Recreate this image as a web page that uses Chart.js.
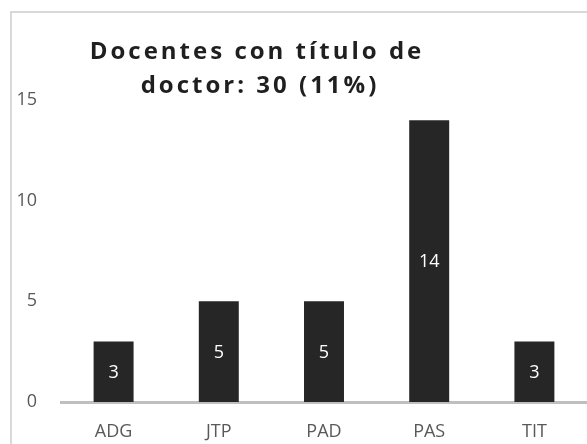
<!DOCTYPE html>
<html>
<head>
<meta charset="utf-8">
<script src="https://cdn.jsdelivr.net/npm/chart.js@4/dist/chart.umd.min.js"></script>
<style>
  html, body { margin: 0; padding: 0; background: #fff; overflow: hidden; }
  #frame { position: absolute; left: 10px; top: 11px; width: 700px; height: 600px;
           border-left: 2px solid #d9d9d9; border-top: 2px solid #d9d9d9; }
  #chart-doctores { position: absolute; left: 0; top: 0; }
</style>
</head>
<body>
<div id="frame"></div>
<canvas id="chart-doctores" width="587" height="444"></canvas>
<script>
// Datos del gráfico
const categorias = ['ADG', 'JTP', 'PAD', 'PAS', 'TIT'];
const docentes = [3, 5, 5, 14, 3];
const tituloLineas = ['Docentes con título de', 'doctor: 30 (11%)'];
const ticksY = [0, 5, 10, 15];

// Título con espaciado entre letras y etiquetas blancas dentro de las barras
const extras = {
  id: 'extras',
  afterDatasetsDraw(chart) {
    const ctx = chart.ctx;
    const meta = chart.getDatasetMeta(0);
    ctx.save();
    ctx.fillStyle = '#ffffff';
    ctx.font = '18px "Open Sans"';
    ctx.textAlign = 'center';
    ctx.textBaseline = 'middle';
    meta.data.forEach((bar, i) => {
      const mid = (bar.y + bar.base) / 2;
      ctx.fillText(String(docentes[i]), bar.x, mid + 1);
    });
    ctx.restore();
  },
  afterDraw(chart) {
    const ctx = chart.ctx;
    ctx.save();
    ctx.fillStyle = '#1f1f1f';
    ctx.font = 'bold 24px "Open Sans"';
    ctx.letterSpacing = '3px';
    ctx.textAlign = 'center';
    ctx.textBaseline = 'alphabetic';
    ctx.fillText(tituloLineas[0], 257, 59);
    ctx.fillText(tituloLineas[1], 260, 93);
    ctx.restore();
  }
};

const ctx = document.getElementById('chart-doctores').getContext('2d');
new Chart(ctx, {
  type: 'bar',
  data: {
    labels: categorias,
    datasets: [{
      label: 'Docentes',
      data: docentes,
      backgroundColor: '#262626',
      borderWidth: 0,
      barPercentage: 0.38,
      categoryPercentage: 1
    }]
  },
  options: {
    responsive: false,
    animation: false,
    layout: { padding: { top: 100, right: 0, left: 0, bottom: 0 } },
    plugins: {
      legend: { display: false },
      tooltip: { enabled: false },
      title: { display: false }
    },
    scales: {
      y: {
        min: 0,
        max: 15,
        afterFit(scale) { scale.width = 61; },
        afterBuildTicks(scale) { scale.ticks = ticksY.map(v => ({ value: v })); },
        grid: { display: false, drawTicks: false },
        border: { display: false },
        ticks: { color: '#595959', font: { family: 'Open Sans', size: 18 }, padding: 24 }
      },
      x: {
        afterFit(scale) { scale.height = 42; },
        grid: { display: false, drawTicks: false },
        border: { display: true, color: '#bfbfbf', width: 3 },
        ticks: { color: '#595959', font: { family: 'Open Sans', size: 18 }, padding: 19 }
      }
    }
  },
  plugins: [extras]
});
</script>
</body>
</html>
